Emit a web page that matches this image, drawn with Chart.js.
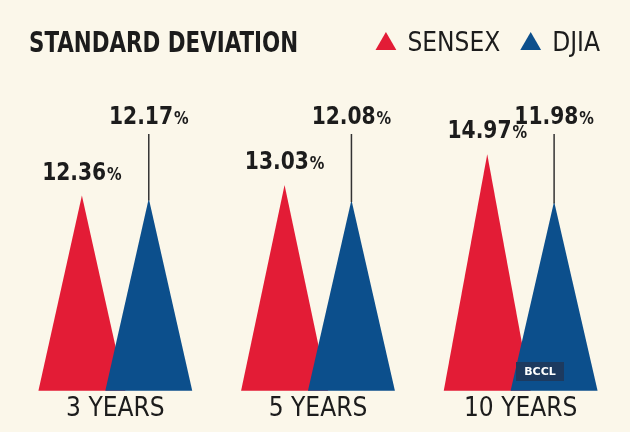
<!DOCTYPE html>
<html>
<head>
<meta charset="utf-8">
<script src="https://cdn.jsdelivr.net/npm/chart.js@4.4.1/dist/chart.umd.min.js"></script>
<style>
  html, body { margin: 0; padding: 0; background: #fbf7ea; }
  #wrap { width: 630px; height: 432px; position: relative; }
</style>
</head>
<body>
<div id="wrap"><canvas id="myChart"></canvas></div>
<script>
// data
const periods = ['3 YEARS', '5 YEARS', '10 YEARS'];
const sensex = [12.36, 13.03, 14.97];
const djia = [12.17, 12.08, 11.98];

const RED = '#e31c36';
const BLUE = '#0c4f8c';
const INK = '#1c1c1c';
const NARROW = '"Liberation Sans Narrow", "DejaVu Sans Condensed", sans-serif';

// writes "12.36%" with a smaller % sign, centred on cx, squeezed a little
function drawValue(ctx, value, cx, baseline) {
    const squeeze = 0.9;
    const num = value.toFixed(2);
    ctx.font = 'bold 25px ' + NARROW;
    const w1 = ctx.measureText(num).width;
    ctx.font = 'bold 18px ' + NARROW;
    const w2 = ctx.measureText('%').width;
    ctx.save();
    ctx.translate(cx, baseline);
    ctx.scale(squeeze, 1);
    const left = -(w1 + w2 + 1) / 2;
    ctx.fillStyle = INK;
    ctx.textAlign = 'left';
    ctx.textBaseline = 'alphabetic';
    ctx.font = 'bold 25px ' + NARROW;
    ctx.fillText(num, left, 0);
    ctx.font = 'bold 18px ' + NARROW;
    ctx.fillText('%', left + w1 + 1, 0);
    ctx.restore();
}

// bars are drawn as triangles, DJIA on top of SENSEX
const triangles = {
    id: 'triangles',
    beforeDatasetDraw() {
        return false;
    },
    afterDatasetsDraw(chart) {
        const ctx = chart.ctx;
        ctx.save();
        chart.data.datasets.forEach((ds, i) => {
            chart.getDatasetMeta(i).data.forEach(bar => {
                const half = bar.width * 0.65;
                ctx.beginPath();
                ctx.moveTo(bar.x - half, bar.base);
                ctx.lineTo(bar.x, bar.y);
                ctx.lineTo(bar.x + half, bar.base);
                ctx.closePath();
                ctx.fillStyle = ds.backgroundColor;
                ctx.fill();
            });
        });

        chart.getDatasetMeta(0).data.forEach((bar, j) => {
            drawValue(ctx, sensex[j], bar.x, bar.y - 16);
        });
        chart.getDatasetMeta(1).data.forEach((bar, j) => {
            const labelY = 124;
            drawValue(ctx, djia[j], bar.x, labelY);
            ctx.strokeStyle = '#333';
            ctx.lineWidth = 1.5;
            ctx.beginPath();
            ctx.moveTo(bar.x, labelY + 10);
            ctx.lineTo(bar.x, bar.y + 2);
            ctx.stroke();
        });
        ctx.restore();
    },
    afterDraw(chart) {
        const ctx = chart.ctx;
        ctx.save();
        ctx.fillStyle = INK;
        ctx.font = 'bold 28px ' + NARROW;
        ctx.textAlign = 'left';
        ctx.textBaseline = 'alphabetic';
        ctx.translate(29, 52);
        ctx.scale(0.85, 1);
        ctx.fillText('STANDARD DEVIATION', 0, 0);
        ctx.restore();

        // agency tag
        ctx.save();
        ctx.fillStyle = '#1d3a5f';
        ctx.fillRect(516, 362, 48, 19);
        ctx.fillStyle = '#ffffff';
        ctx.font = 'bold 11px "DejaVu Sans", sans-serif';
        ctx.textAlign = 'center';
        ctx.textBaseline = 'middle';
        ctx.fillText('BCCL', 540, 372);
        ctx.restore();
    }
};

new Chart(document.getElementById('myChart'), {
    type: 'bar',
    data: {
        labels: periods,
        datasets: [
            { label: 'SENSEX', data: sensex, backgroundColor: RED, borderWidth: 0 },
            { label: 'DJIA', data: djia, backgroundColor: BLUE, borderWidth: 0 }
        ]
    },
    options: {
        responsive: true,
        maintainAspectRatio: false,
        animation: false,
        datasets: {
            bar: { categoryPercentage: 0.66, barPercentage: 1 }
        },
        layout: { padding: { top: 9, left: 14, right: 8, bottom: 4 } },
        plugins: {
            tooltip: { enabled: false },
            legend: {
                position: 'top',
                align: 'end',
                labels: {
                    usePointStyle: true,
                    pointStyle: 'triangle',
                    boxWidth: 17,
                    boxHeight: 17,
                    padding: 22,
                    color: INK,
                    font: { family: NARROW, size: 26 }
                }
            }
        },
        scales: {
            x: {
                grid: { display: false, drawTicks: false },
                border: { display: false },
                ticks: { color: INK, padding: 3, font: { family: NARROW, size: 26 } }
            },
            y: {
                display: false,
                min: 0,
                max: 20.5
            }
        }
    },
    plugins: [triangles]
});
</script>
</body>
</html>
